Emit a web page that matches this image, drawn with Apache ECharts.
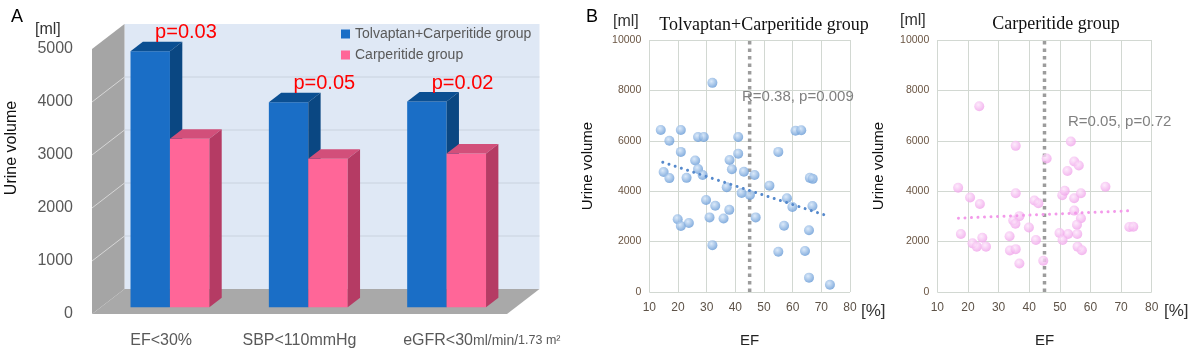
<!DOCTYPE html>
<html>
<head>
<meta charset="utf-8">
<script src="https://cdn.jsdelivr.net/npm/echarts@6/dist/echarts.min.js"></script>
<style>
  html, body { margin: 0; padding: 0; background: #fff; }
  #main { width: 1191px; height: 353px; }
</style>
</head>
<body>
<div id="main"></div>
<script>
// ---- panel A : mean urine volume by subgroup
var groups = ['EF<30%', 'SBP<110mmHg', 'eGFR<30'];
var tolvaptanMeans = [4830, 3870, 3880];
var carperitideMeans = [3180, 2800, 2900];
var pValues = ['p=0.03', 'p=0.05', 'p=0.02'];
var seriesNames = ['Tolvaptan+Carperitide group', 'Carperitide group'];

// ---- panel B : urine volume vs EF  [EF %, ml]
var tolvaptanPts = [
  [14, 6430], [21, 6430], [17, 6000], [27, 6150], [29, 6150], [41, 6150], [61, 6400], [63, 6420],
  [21, 5560], [26, 5220], [38, 5240], [41, 5490], [55, 5560],
  [15, 4760], [17, 4520], [23, 4530], [27, 4880], [28.6, 4640], [38.8, 4870], [43, 4770],
  [46.7, 4640], [66, 4530], [67, 4490],
  [37, 4160], [42.2, 3930], [45.1, 3850], [51.9, 4220], [58, 3720], [59.9, 3370], [66.9, 3410],
  [29.8, 3650], [33, 3420], [37.9, 3260],
  [19.9, 2890], [21, 2620], [23.8, 2740], [31, 2960], [35.9, 2920], [47.1, 2960], [57, 2630], [65.7, 2450],
  [32, 1860], [55, 1600], [64.3, 1630], [65.7, 570], [73, 290], [32, 8300]
];
var carperitidePts = [
  [23.7, 7370], [35.6, 5800], [53.6, 5970], [45.7, 5300], [54.7, 5180], [56.2, 5020], [52.5, 4800],
  [16.8, 4140], [20.7, 3750], [23.9, 3490], [35.6, 3920], [41.7, 3630], [43, 3520], [50.8, 3840],
  [51.6, 4020], [54.7, 3720], [56.9, 3920], [64.9, 4180], [54.7, 3230], [56.9, 2930], [55.6, 2670],
  [55.7, 2300], [52.7, 2300], [49.9, 2340], [50.9, 2060], [55.8, 1800], [57.2, 1660],
  [34.8, 2840], [36.8, 3010], [35.5, 2710], [39.9, 2560], [33.6, 2210], [17.7, 2300],
  [21.5, 1930], [22.9, 1800], [24.7, 2150], [25.9, 1800], [33.7, 1650], [35.6, 1700],
  [36.8, 1130], [42.2, 2060], [44.6, 1240], [72.7, 2580], [74, 2590]
];
var tolvaptanTrend = [[14.7, 5150], [71.9, 3030]];
var carperitideTrend = [[16.9, 2930], [74, 3230]];
var efCutoff = 45;
var tolvaptanStats = 'R=0.38, p=0.009';
var carperitideStats = 'R=0.05, p=0.72';

// ---- 3D look of panel A
var A = { left: 92, top: 49, right: 507, bottom: 314 };
var DEPTH = [32.5, -25];
var BAR_POS = 0.27, BAR_DEPTH = 0.38;
var barColors = [
  { front: '#1a6ec6', top: '#0b4f92', side: '#0a4782' },
  { front: '#ff6698', top: '#d24f7a', side: '#b53b64' }
];
var labelGray = '#595959';
var sans = 'Liberation Sans, Arial, sans-serif';

function yA(v) { return A.bottom - (A.bottom - A.top) * v / 5000; }
function plain(v) { return String(v); }

function wallGraphics() {
  var dx = DEPTH[0], dy = DEPTH[1];
  var els = [];
  els.push({ type: 'polygon', z: 0, shape: { points: [[A.left + dx, A.top + dy], [A.right + dx, A.top + dy], [A.right + dx, A.bottom + dy], [A.left + dx, A.bottom + dy]] },
    style: { fill: '#dfe8f5' } });
  els.push({ type: 'polygon', z: 0, shape: { points: [[A.left, A.top], [A.left + dx, A.top + dy], [A.left + dx, A.bottom + dy], [A.left, A.bottom]] },
    style: { fill: '#a5a5a5' } });
  els.push({ type: 'polygon', z: 0, shape: { points: [[A.left, A.bottom], [A.right, A.bottom], [A.right + dx, A.bottom + dy], [A.left + dx, A.bottom + dy]] },
    style: { fill: '#a9a9a9' } });
  for (var v = 1000; v < 5000; v += 1000) {
    els.push({ type: 'line', z: 1, shape: { x1: A.left + dx, y1: yA(v) + dy, x2: A.right + dx, y2: yA(v) + dy }, style: { stroke: '#c9d2de', lineWidth: 1 } });
    els.push({ type: 'line', z: 1, shape: { x1: A.left, y1: yA(v), x2: A.left + dx, y2: yA(v) + dy }, style: { stroke: '#d6d6d6', lineWidth: 1 } });
  }
  return els;
}

function renderBar(params, api) {
  var cat = api.value(0), val = api.value(1);
  var top = api.coord([cat, val]);
  var bot = api.coord([cat, 0]);
  var w = api.size([1, 0])[0] * 0.285;
  var c = barColors[params.seriesIndex];
  var x = top[0] + (params.seriesIndex === 0 ? -w : 0) + DEPTH[0] * BAR_POS;
  var yt = top[1] + DEPTH[1] * BAR_POS, yb = bot[1] + DEPTH[1] * BAR_POS;
  var dx = DEPTH[0] * BAR_DEPTH, dy = DEPTH[1] * BAR_DEPTH;
  var kids = [
    { type: 'rect', shape: { x: x, y: yt, width: w, height: yb - yt }, style: { fill: c.front } },
    { type: 'polygon', shape: { points: [[x, yt], [x + w, yt], [x + w + dx, yt + dy], [x + dx, yt + dy]] }, style: { fill: c.top } },
    { type: 'polygon', shape: { points: [[x + w, yt], [x + w + dx, yt + dy], [x + w + dx, yb + dy], [x + w, yb]] }, style: { fill: c.side } }
  ];
  if (params.seriesIndex === 0) {
    kids.push({ type: 'text', z2: 10, style: { text: pValues[params.dataIndex], x: x + w + 16, y: yt + dy - 9,
      align: 'center', verticalAlign: 'middle', fill: '#ff0000', fontSize: 20, fontFamily: sans } });
  }
  return { type: 'group', children: kids };
}

function txt(s, x, y, size, color, extra) {
  var st = { text: s, x: x, y: y, fontSize: size, fill: color, fontFamily: sans, verticalAlign: 'middle' };
  for (var k in extra) st[k] = extra[k];
  return { type: 'text', z: 50, style: st };
}

function scatterX(idx) {
  return {
    type: 'value', gridIndex: idx, min: 10, max: 80, interval: 10,
    name: 'EF', nameLocation: 'middle', nameGap: 41,
    nameTextStyle: { fontSize: 15, color: '#222', fontFamily: sans },
    axisLine: { show: false }, axisTick: { show: false },
    axisLabel: { fontSize: 12, color: '#5e5348', margin: 10, fontFamily: sans },
    splitLine: { lineStyle: { color: '#d2d8d2' } }
  };
}
function scatterY(idx, gap) {
  return {
    type: 'value', gridIndex: idx, min: 0, max: 10000, interval: 2000,
    name: 'Urine volume', nameLocation: 'middle', nameGap: gap, nameRotate: 90,
    nameTextStyle: { fontSize: 15, color: '#111', fontFamily: sans },
    axisLine: { show: false }, axisTick: { show: false },
    axisLabel: { fontSize: 10.5, color: '#6a5543', margin: 8, fontFamily: sans, formatter: plain },
    splitLine: { lineStyle: { color: '#d2d8d2' } }
  };
}
function ball(c0, c1) {
  return new echarts.graphic.RadialGradient(0.4, 0.35, 0.7, [{ offset: 0, color: c0 }, { offset: 1, color: c1 }]);
}

var chart = echarts.init(document.getElementById('main'));
var option = {
  animation: false,
  backgroundColor: '#fff',
  title: [
    { text: 'Tolvaptan+Carperitide group', left: 759, top: 11, textAlign: 'center',
      textStyle: { fontFamily: 'Liberation Serif, serif', fontSize: 18, fontWeight: 'normal', color: '#111' } },
    { text: 'Carperitide group', left: 1051, top: 10, textAlign: 'center',
      textStyle: { fontFamily: 'Liberation Serif, serif', fontSize: 18, fontWeight: 'normal', color: '#111' } }
  ],
  legend: {
    data: seriesNames, orient: 'vertical', left: 336, top: 22, itemWidth: 9, itemHeight: 9, itemGap: 7,
    icon: 'rect', textStyle: { fontSize: 14, color: labelGray, fontFamily: sans }
  },
  grid: [
    { left: A.left, top: A.top, width: A.right - A.left, height: A.bottom - A.top },
    { left: 649.3, top: 40, width: 200.7, height: 255 },
    { left: 937.3, top: 40, width: 214.4, height: 256.7 }
  ],
  xAxis: [
    { type: 'category', gridIndex: 0, data: groups,
      axisLine: { show: false }, axisTick: { show: false }, splitLine: { show: false },
      axisLabel: { margin: 19, interval: 0,
        formatter: function (v, i) {
          if (i === 2) return '{sp|}{a|' + v + '}{b|ml/min/}{c|1.73 m\u00b2}';
          return '{a|' + v + '}';
        },
        rich: {
          sp: { width: 88 },
          a: { fontSize: 16, color: labelGray, fontFamily: sans },
          b: { fontSize: 14, color: labelGray, fontFamily: sans },
          c: { fontSize: 12.5, color: labelGray, fontFamily: sans }
        } } },
    scatterX(1), scatterX(2)
  ],
  yAxis: [
    { type: 'value', gridIndex: 0, min: 0, max: 5000, interval: 1000,
      name: 'Urine volume', nameLocation: 'middle', nameGap: 72, nameRotate: 90,
      nameTextStyle: { fontSize: 16, color: '#111', fontFamily: sans, padding: [0, 0, 0, 67] },
      axisLine: { show: false }, axisTick: { show: false }, splitLine: { show: false },
      axisLabel: { fontSize: 16, color: labelGray, margin: 19, fontFamily: sans, formatter: plain } },
    scatterY(1, 54), scatterY(2, 51)
  ],
  series: [
    { name: seriesNames[0], type: 'custom', xAxisIndex: 0, yAxisIndex: 0, z: 5,
      itemStyle: { color: barColors[0].front }, renderItem: renderBar,
      data: tolvaptanMeans.map(function (v, i) { return [i, v]; }) },
    { name: seriesNames[1], type: 'custom', xAxisIndex: 0, yAxisIndex: 0, z: 5,
      itemStyle: { color: barColors[1].front }, renderItem: renderBar,
      data: carperitideMeans.map(function (v, i) { return [i, v]; }) },

    { type: 'line', xAxisIndex: 1, yAxisIndex: 1, symbol: 'none', z: 3,
      lineStyle: { color: '#9c9c9c', width: 3.5, type: [3.5, 4] },
      data: [[efCutoff, 0], [efCutoff, 10000]] },
    { type: 'scatter', xAxisIndex: 1, yAxisIndex: 1, symbolSize: 10, z: 4,
      itemStyle: { color: ball('#d2e4f8', '#5e94d3') }, data: tolvaptanPts },
    { type: 'line', xAxisIndex: 1, yAxisIndex: 1, symbol: 'none', z: 5,
      lineStyle: { color: '#5589cc', width: 3, type: [0.01, 6.5], cap: 'round' },
      data: tolvaptanTrend },

    { type: 'line', xAxisIndex: 2, yAxisIndex: 2, symbol: 'none', z: 3,
      lineStyle: { color: '#9c9c9c', width: 3.5, type: [3.5, 4] },
      data: [[efCutoff, 0], [efCutoff, 10000]] },
    { type: 'scatter', xAxisIndex: 2, yAxisIndex: 2, symbolSize: 10, z: 4,
      itemStyle: { color: ball('#fde6fb', '#ef9fe9') }, data: carperitidePts },
    { type: 'line', xAxisIndex: 2, yAxisIndex: 2, symbol: 'none', z: 5,
      lineStyle: { color: '#f39aea', width: 3, type: [0.01, 6.5], cap: 'round' },
      data: carperitideTrend }
  ],
  graphic: wallGraphics().concat([
    txt('A', 11, 17, 18, '#000'),
    txt('[ml]', 35, 30, 16, '#333'),
    txt('B', 586, 17, 18, '#000'),
    txt('[ml]', 613, 22, 16, '#333'),
    txt('[ml]', 900, 21, 16, '#333'),
    txt('[%]', 861, 311, 17, '#333'),
    txt('[%]', 1164, 311, 17, '#333'),
    txt(tolvaptanStats, 742, 97, 15, '#808080'),
    txt(carperitideStats, 1068, 122, 15, '#808080')
  ])
};
chart.setOption(option);
</script>
</body>
</html>
